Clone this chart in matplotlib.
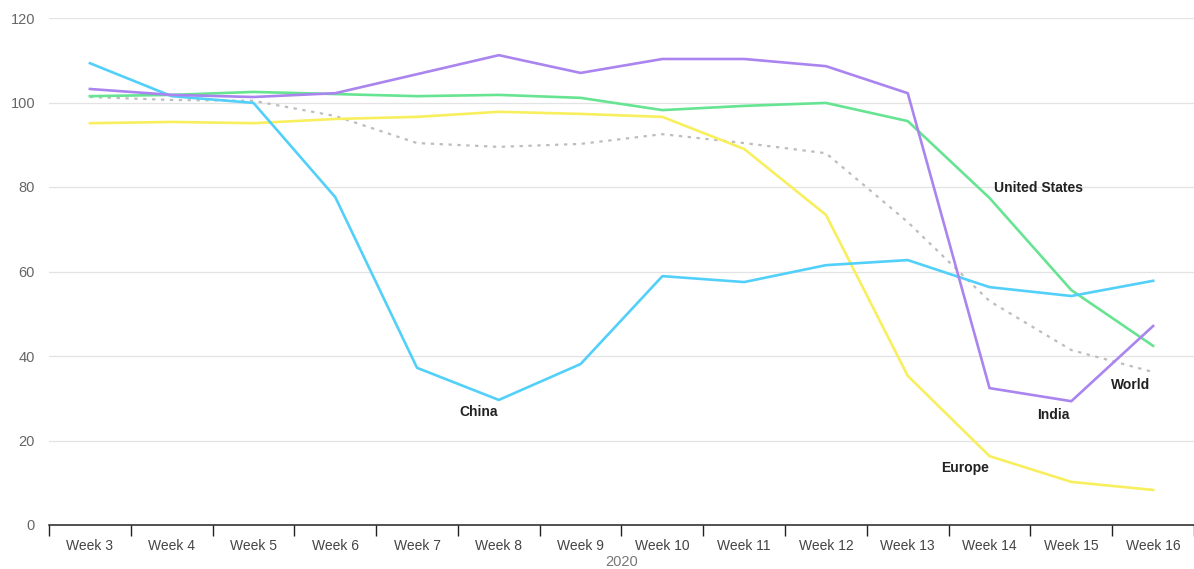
import matplotlib
matplotlib.use("Agg")
import matplotlib.pyplot as plt
import numpy as np

weeks = ["Week 3", "Week 4", "Week 5", "Week 6", "Week 7", "Week 8", "Week 9",
         "Week 10", "Week 11", "Week 12", "Week 13", "Week 14", "Week 15", "Week 16"]
china = [109.3, 101.5, 99.9, 77.6, 37.2, 29.6, 38.1, 58.9, 57.5, 61.5, 62.7, 56.3, 54.2, 57.8]
india = [103.2, 101.8, 101.3, 102.2, 106.7, 111.2, 107.0, 110.3, 110.3, 108.6, 102.2, 32.4, 29.3, 47.1]
united_states = [101.5, 101.8, 102.5, 102.0, 101.5, 101.8, 101.1, 98.2, 99.2, 99.9, 95.6, 77.4, 55.6, 42.4]
europe = [95.1, 95.4, 95.1, 96.1, 96.6, 97.8, 97.3, 96.6, 89.0, 73.4, 35.3, 16.3, 10.2, 8.3]
world = [101.3, 100.6, 100.4, 96.8, 90.4, 89.5, 90.2, 92.5, 90.4, 88.0, 71.7, 53.0, 41.4, 36.2]

plt.rcParams["font.family"] = ["Liberation Sans", "DejaVu Sans"]

fig = plt.figure(figsize=(11.94, 5.69), dpi=100)
ax = fig.add_axes([49 / 1194, 44 / 569, 1145 / 1194, 507 / 569])

x = np.arange(len(weeks))
ax.plot(x, world, color="#bdbdbd", lw=1.6, ls=(0, (1.5, 2.5)), zorder=2)
ax.plot(x, europe, color="#f8ef5e", lw=1.9, zorder=3)
ax.plot(x, united_states, color="#66e491", lw=1.9, zorder=3)
ax.plot(x, china, color="#52d0fa", lw=1.9, zorder=4)
ax.plot(x, india, color="#aa84ef", lw=1.9, zorder=4)

lab = dict(fontsize=10, fontweight="bold", color="#222222", ha="center", va="center")
ax.text(11.6, 79.8, "United States", **lab)
ax.text(4.75, 26.8, "China", **lab)
ax.text(11.78, 26.1, "India", **lab)
ax.text(12.72, 33.2, "World", **lab)
ax.text(10.7, 13.6, "Europe", **lab)

ax.set_xlim(-0.5, len(weeks) - 0.5)
ax.set_ylim(0, 120)
ax.set_yticks(range(0, 121, 20))
ax.tick_params(axis="y", length=0, pad=10, labelsize=10.5, labelcolor="#666666")
ax.set_xticks(x)
ax.set_xticklabels(weeks)
ax.set_xticks(np.arange(-0.5, len(weeks)), minor=True)
ax.tick_params(axis="x", which="major", length=0, pad=10, labelsize=10, labelcolor="#444444")
ax.tick_params(axis="x", which="minor", length=8, width=1, color="#222222", direction="out")
ax.set_xlabel("2020", fontsize=10.5, color="#777777", labelpad=1.5)

for s in ("top", "right", "left"):
    ax.spines[s].set_visible(False)
ax.spines["bottom"].set_color("#222222")
ax.spines["bottom"].set_linewidth(1.1)
ax.grid(axis="y", color="#e3e3e3", lw=0.9)
ax.set_axisbelow(True)

fig.savefig("out.png", dpi=100)
